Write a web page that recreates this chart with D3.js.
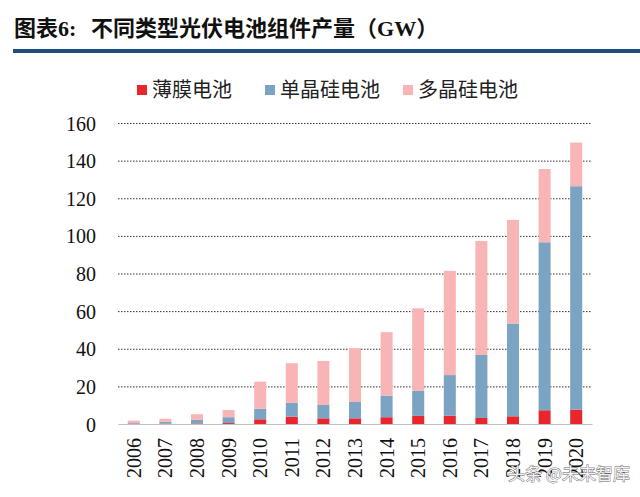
<!DOCTYPE html>
<html><head><meta charset="utf-8">
<script src="https://cdn.jsdelivr.net/npm/d3@7/dist/d3.min.js"></script>
<style>body{margin:0;background:#fff}svg{display:block}</style>
</head><body>
<svg id="c" width="640" height="497"></svg>
<script>
const years = ["2006","2007","2008","2009","2010","2011","2012","2013","2014","2015","2016","2017","2018","2019","2020"];
const thinFilm = [0.1,0.2,0.3,0.5,2.5,3.9,3.0,3.0,3.6,4.3,4.4,3.2,4.1,7.3,7.6];
const monoSi   = [0.4,1.0,2.0,3.1,5.6,7.3,7.1,8.7,11.5,13.3,21.6,33.5,49.3,89.3,118.8];
const polySi   = [1.3,1.6,2.9,3.8,14.4,21.1,23.4,28.6,33.7,43.9,55.4,60.6,55.1,38.9,23.2];
const seriesNames = ["薄膜电池","单晶硅电池","多晶硅电池"];
const yTicks = [0,20,40,60,80,100,120,140,160];
const colors = ["#e8262b","#7aa3c4","#f9b4b6"];

const svg = d3.select("#c");
const serif = "'Liberation Serif','Times New Roman',serif";
const cjk = "'Noto Sans CJK SC',sans-serif";

// Title
const t1 = svg.append("text").attr("x",14).attr("y",36).attr("font-family",cjk).attr("font-weight","bold")
  .attr("font-size",22).attr("fill","#111");
t1.append("tspan").text("图表");
t1.append("tspan").attr("font-family",serif).text("6:");
const t2 = svg.append("text").attr("x",91).attr("y",36).attr("font-family",cjk).attr("font-weight","bold")
  .attr("font-size",22).attr("fill","#111");
t2.append("tspan").text("不同类型光伏电池组件产量（");
t2.append("tspan").attr("font-family",serif).text("GW");
t2.append("tspan").text("）");
svg.append("rect").attr("x",13).attr("y",49).attr("width",627).attr("height",4).attr("fill","#1f4e7c");

const x = d3.scaleBand().domain(years).range([118,592]).paddingInner(0.62).paddingOuter(0.31);
const y = d3.scaleLinear().domain([0,160]).range([424,123]);

// gridlines
svg.append("g").selectAll("line").data(yTicks.filter(d=>d>0)).join("line")
  .attr("x1",118).attr("x2",592).attr("y1",d=>y(d)+0.5).attr("y2",d=>y(d)+0.5)
  .attr("stroke","#333").attr("stroke-width",1).attr("stroke-dasharray","1.5,1.5");

// y axis labels
const yAxis = d3.axisLeft(y).tickValues(yTicks).tickSize(0).tickPadding(0);
const gy = svg.append("g").attr("transform","translate(96,0)").call(yAxis);
gy.select(".domain").remove();
gy.selectAll("text").attr("font-family",serif).attr("font-size",20).attr("fill","#111").attr("dy","0.35em");

// stacked bars
const data = years.map((yr,i)=>({year:yr, s0:thinFilm[i], s1:monoSi[i], s2:polySi[i]}));
const stack = d3.stack().keys(["s0","s1","s2"])(data);
svg.append("g").selectAll("g").data(stack).join("g").attr("fill",(d,i)=>colors[i])
  .selectAll("rect").data(d=>d).join("rect")
  .attr("x",d=>x(d.data.year)).attr("width",x.bandwidth())
  .attr("y",d=>y(d[1])).attr("height",d=>Math.max(0,y(d[0])-y(d[1])));

// x axis
const xAxis = d3.axisBottom(x).tickSize(0).tickPadding(0);
const gx = svg.append("g").attr("transform","translate(0,424)").call(xAxis);
gx.select(".domain").attr("stroke","#bdbdbd").attr("stroke-width",1.2);
gx.selectAll("text").attr("font-family",serif).attr("font-size",20).attr("fill","#111")
  .attr("transform","rotate(-90)").attr("text-anchor","end").attr("x",-14).attr("y",0).attr("dy","0.35em");

// legend
const legX = [137,265,403];
const lg = svg.append("g").selectAll("g").data(seriesNames).join("g")
  .attr("transform",(d,i)=>`translate(${legX[i]},90)`);
lg.append("rect").attr("x",0).attr("y",-5).attr("width",10).attr("height",10).attr("fill",(d,i)=>colors[i]);
lg.append("text").attr("x",15).attr("y",0).attr("dy","0.36em").attr("font-family",cjk)
  .attr("font-size",20).attr("fill","#222").text(d=>d);

// watermark
svg.append("text").attr("x",508).attr("y",480).attr("font-family",cjk).attr("font-size",17)
  .attr("fill","#f2f2f2").attr("stroke","#666").attr("stroke-width",0.8).attr("paint-order","stroke")
  .text("头条 @未来智库");
</script>
</body></html>
